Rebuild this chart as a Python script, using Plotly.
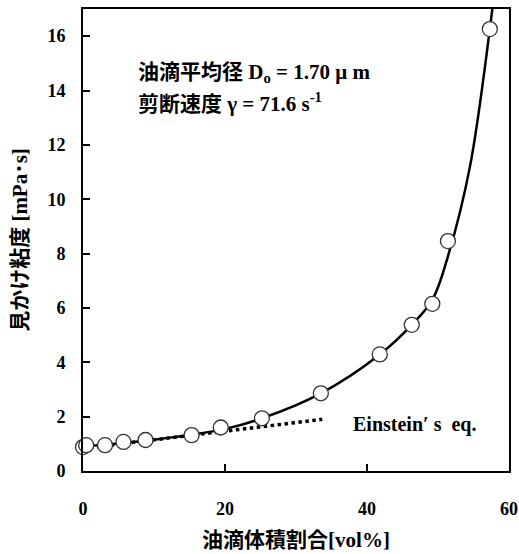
import plotly.graph_objects as go

# Measured data (oil volume fraction [vol%], apparent viscosity [mPa·s])
phi = [0.0, 0.45, 3.1, 5.7, 8.8, 15.3, 19.4, 25.2, 33.5, 41.8, 46.3, 49.2, 51.4, 57.3]
visc = [0.88, 0.95, 0.95, 1.07, 1.14, 1.32, 1.60, 1.94, 2.86, 4.29, 5.38, 6.15, 8.46, 16.26]

# Fitted curve
fit_x = [0.0, 10.0, 20.0, 25.2, 33.5, 41.8, 46.3, 49.2, 51.4, 54.5, 57.3, 58.3]
fit_y = [0.90, 1.15, 1.55, 1.94, 2.86, 4.29, 5.38, 6.30, 7.90, 11.2, 16.26, 18.5]

# Einstein's equation line
ein_x = [0.0, 33.7]
ein_y = [0.83, 1.90]

x_ticks = [0, 20, 40, 60]
y_ticks = [0, 2, 4, 6, 8, 10, 12, 14, 16]

FONT = "Liberation Serif, Noto Sans CJK JP"

fig = go.Figure()
fig.add_trace(go.Scatter(x=ein_x, y=ein_y, mode="lines",
                         line=dict(color="black", width=3.5, dash="dot"),
                         hoverinfo="skip", showlegend=False))
fig.add_trace(go.Scatter(x=fit_x, y=fit_y, mode="lines",
                         line=dict(color="black", width=2.5, shape="spline", smoothing=1.0),
                         hoverinfo="skip", showlegend=False))
fig.add_trace(go.Scatter(x=phi, y=visc, mode="markers",
                         marker=dict(symbol="circle", size=15, color="white",
                                     line=dict(color="#333333", width=1.3)),
                         cliponaxis=False, showlegend=False))

fig.add_annotation(x=0.125, y=0.861, xref="paper", yref="paper", xanchor="left", yanchor="middle",
                   text="<b>油滴平均径 D<sub>o</sub> = 1.70 μ m</b>", showarrow=False,
                   font=dict(family=FONT, size=21, color="black"))
fig.add_annotation(x=0.125, y=0.797, xref="paper", yref="paper", xanchor="left", yanchor="middle",
                   text="<b>剪断速度 γ = 71.6 s<sup>-1</sup></b>", showarrow=False,
                   font=dict(family=FONT, size=21, color="black"))
fig.add_annotation(x=0.63, y=0.101, xref="paper", yref="paper", xanchor="left", yanchor="middle",
                   text="<b>Einstein′ s  eq.</b>", showarrow=False,
                   font=dict(family=FONT, size=20, color="black"))

fig.update_layout(
    width=519, height=554,
    margin=dict(l=83, r=10, t=9, b=83),
    paper_bgcolor="white", plot_bgcolor="white",
    font=dict(family=FONT, size=18, color="black"),
    xaxis=dict(range=[0, 60], tickvals=x_ticks, ticktext=[f"<b>{v}</b>" for v in x_ticks],
               ticks="inside", ticklen=7, tickwidth=1.5, tickcolor="black",
               showline=True, linecolor="black", linewidth=2, mirror=True,
               showgrid=False, zeroline=False, ticklabelstandoff=20, automargin=False,
               ticklabeloverflow="allow",
               tickfont=dict(family=FONT, size=18),
               title=dict(text="<b>油滴体積割合[vol%]</b>", font=dict(family=FONT, size=21),
                          standoff=15)),
    yaxis=dict(range=[0, 17], tickvals=y_ticks, ticktext=[f"<b>{v}</b>" for v in y_ticks],
               ticks="inside", ticklen=7, tickwidth=1.5, tickcolor="black",
               showline=True, linecolor="black", linewidth=2, mirror=True,
               showgrid=False, zeroline=False, ticklabelstandoff=12, automargin=False,
               ticklabeloverflow="allow",
               tickfont=dict(family=FONT, size=18),
               title=dict(text="<b>見かけ粘度 [mPa･s]</b>", font=dict(family=FONT, size=21),
                          standoff=14)),
)

fig.write_html("out.html", config={"displayModeBar": False},
               post_script="document.body.style.margin='0';")
